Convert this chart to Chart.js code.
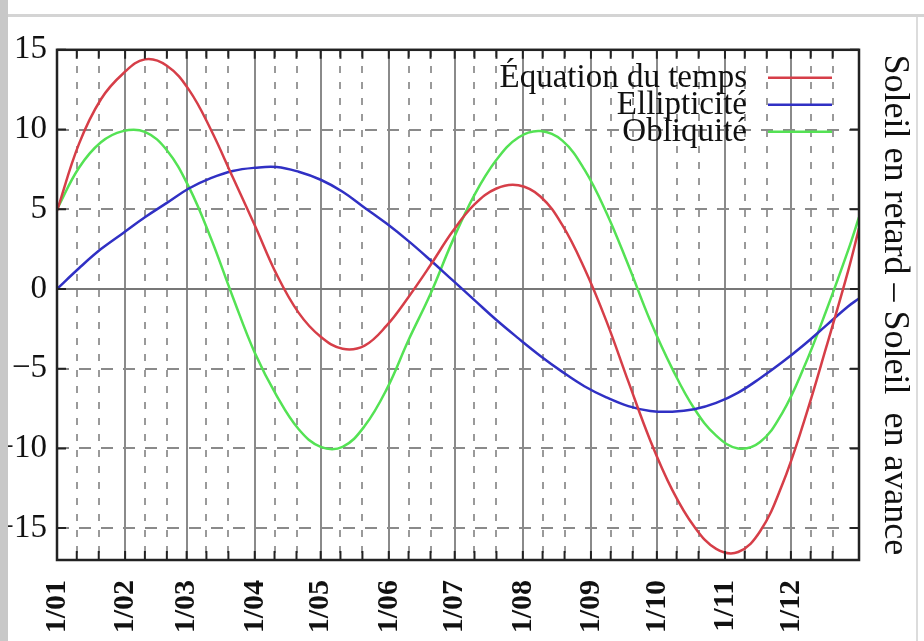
<!DOCTYPE html>
<html>
<head>
<meta charset="utf-8">
<script src="https://cdn.jsdelivr.net/npm/chart.js@4"></script>
<style>
  body { margin: 0; background: #fff; width: 924px; height: 641px; overflow: hidden; position: relative; }
  #stripe { position: absolute; left: 0; top: 0; width: 8px; height: 641px; background: #c8c8c8; }
  #topline { position: absolute; left: 8px; top: 14px; width: 916px; height: 3px; background: #d4d4d4; }
  #rightline { position: absolute; left: 916px; top: 17px; width: 2px; height: 624px; background: #dcdcdc; }
  #wrap { position: absolute; left: 8px; top: 20px; }
</style>
</head>
<body>
<div id="stripe"></div>
<div id="topline"></div>
<div id="rightline"></div>
<div id="wrap"><canvas id="lineChart" width="908" height="621"></canvas></div>
<script>
// day of year (0 = 1 January)
const days = [0, 10, 20, 30, 40, 50, 60, 70, 80, 90, 100, 110, 120, 130, 140, 150, 160, 170, 180,
    190, 200, 210, 220, 230, 240, 250, 260, 270, 280, 290, 300, 310, 320, 330, 340, 350, 360, 365];

const equation = [4.9, 9.1, 11.9, 13.5, 14.4, 14.0, 12.5, 10.0, 7.0, 4.0, 0.9, -1.5, -3.0, -3.75, -3.55, -2.3, -0.5, 1.5, 3.6,
    5.3, 6.3, 6.5, 5.8, 4.0, 1.3, -2.0, -5.8, -9.5, -12.6, -14.9, -16.3, -16.5, -15.2, -12.3, -8.3, -3.7, 1.1, 3.8];

const ellipticite = [0, 1.3, 2.5, 3.5, 4.5, 5.4, 6.3, 6.95, 7.4, 7.6, 7.65, 7.35, 6.85, 6.1, 5.1, 4.1, 3.0, 1.8, 0.55,
    -0.7, -1.95, -3.1, -4.2, -5.2, -6.1, -6.8, -7.35, -7.65, -7.7, -7.55, -7.15, -6.5, -5.6, -4.6, -3.5, -2.3, -1.1, -0.6];

const obliquite = [5.0, 7.6, 9.2, 9.9, 9.85, 8.7, 6.4, 3.2, -0.5, -4.0, -6.7, -8.8, -9.9, -9.9, -8.6, -6.3, -3.2, -0.3, 3.0,
    5.9, 8.1, 9.5, 9.9, 9.3, 7.5, 4.8, 1.5, -2.0, -5.0, -7.5, -9.2, -10.0, -9.6, -7.8, -4.9, -1.4, 2.4, 4.5];

const monthStarts = [0, 31, 59, 90, 120, 151, 181, 212, 243, 273, 304, 334];
const monthLabels = ['1/01', '1/02', '1/03', '1/04', '1/05', '1/06', '1/07', '1/08', '1/09', '1/10', '1/11', '1/12'];
const minorTicks = [9, 19, 40, 50, 68, 78, 99, 109, 129, 139, 160, 170, 190, 200, 221, 231, 252, 262, 282, 292, 313, 323, 343, 353];
const yTicks = [-15, -10, -5, 0, 5, 10, 15];

const serif = '"Liberation Serif", "Times New Roman", serif';

function toPoints(values) {
    return days.map((d, i) => ({ x: d, y: values[i] }));
}

// frame + inward tick marks, gnuplot style
const framePlugin = {
    id: 'frame',
    afterDatasetsDraw(chart) {
        const { ctx, chartArea: a, scales } = chart;
        ctx.save();
        ctx.strokeStyle = '#222';
        ctx.lineWidth = 2;
        const xt = monthStarts.concat(minorTicks);
        xt.forEach(v => {
            const px = scales.x.getPixelForValue(v);
            ctx.beginPath();
            ctx.moveTo(px, a.top); ctx.lineTo(px, a.top + 9);
            ctx.moveTo(px, a.bottom); ctx.lineTo(px, a.bottom - 9);
            ctx.stroke();
        });
        yTicks.forEach(v => {
            const py = scales.y.getPixelForValue(v);
            ctx.beginPath();
            ctx.moveTo(a.left, py); ctx.lineTo(a.left + 9, py);
            ctx.moveTo(a.right, py); ctx.lineTo(a.right - 9, py);
            ctx.stroke();
        });
        ctx.lineWidth = 2.5;
        ctx.strokeRect(a.left, a.top, a.right - a.left, a.bottom - a.top);
        ctx.restore();
    }
};

// key inside the plot: text right-aligned, sample line after it
const keyPlugin = {
    id: 'key',
    afterDatasetsDraw(chart) {
        const { ctx, chartArea: a } = chart;
        ctx.save();
        ctx.font = '33px ' + serif;
        ctx.textAlign = 'right';
        ctx.textBaseline = 'middle';
        chart.data.datasets.forEach((ds, i) => {
            const y = a.top + 28 + i * 27;
            ctx.fillStyle = '#111';
            ctx.fillText(ds.label, a.right - 112, y + 1);
            ctx.strokeStyle = ds.borderColor;
            ctx.lineWidth = 2.5;
            ctx.beginPath();
            ctx.moveTo(a.right - 91, y);
            ctx.lineTo(a.right - 27, y);
            ctx.stroke();
        });
        ctx.restore();
    }
};

const ctx = document.getElementById('lineChart').getContext('2d');

let chart = new Chart(ctx, {
    type: 'line',
    data: {
        datasets: [{
            label: 'Équation du temps',
            data: toPoints(equation),
            borderColor: 'rgb(214, 62, 72)',
            borderWidth: 2.5
        }, {
            label: 'Ellipticité',
            data: toPoints(ellipticite),
            borderColor: 'rgb(48, 48, 196)',
            borderWidth: 2.5
        }, {
            label: 'Obliquité',
            data: toPoints(obliquite),
            borderColor: 'rgb(84, 226, 84)',
            borderWidth: 2.5
        }]
    },
    options: {
        responsive: false,
        animation: false,
        layout: { padding: { top: 25 } },
        elements: {
            point: { radius: 0 },
            line: { tension: 0.4, fill: false }
        },
        plugins: {
            legend: { display: false },
            tooltip: { enabled: false }
        },
        scales: {
            x: {
                type: 'linear',
                min: 0,
                max: 365,
                afterBuildTicks: axis => { axis.ticks = monthStarts.map(v => ({ value: v })); },
                afterFit: axis => { axis.height = 81; },
                grid: { color: '#8a8a8a', lineWidth: 2, drawTicks: false },
                border: { display: false },
                ticks: {
                    autoSkip: false,
                    minRotation: 90,
                    maxRotation: 90,
                    padding: 20,
                    color: '#111',
                    font: { family: serif, size: 30, weight: 'bold' },
                    callback: (value, index) => monthLabels[index]
                }
            },
            x2: {
                type: 'linear',
                position: 'top',
                min: 0,
                max: 365,
                afterBuildTicks: axis => { axis.ticks = minorTicks.map(v => ({ value: v })); },
                afterFit: axis => { axis.height = 0; },
                grid: { color: '#9a9a9a', lineWidth: 2, drawTicks: false },
                border: { display: false, dash: [7, 9] },
                ticks: { display: false }
            },
            y: {
                min: -17,
                max: 15,
                afterBuildTicks: axis => { axis.ticks = yTicks.map(v => ({ value: v })); },
                afterFit: axis => { axis.width = 49; },
                grid: {
                    color: ctx => ctx.tick && ctx.tick.value === 0 ? '#777' : '#8a8a8a',
                    lineWidth: 2,
                    drawTicks: false
                },
                border: {
                    display: false,
                    dash: ctx => ctx.tick && ctx.tick.value === 0 ? [] : [12, 10]
                },
                ticks: {
                    padding: 10,
                    color: '#111',
                    font: { family: serif, size: 33 },
                    callback: v => String(v).replace('-', '\u2212')
                }
            },
            y2: {
                position: 'right',
                min: -17,
                max: 15,
                afterFit: axis => { axis.width = 57; },
                grid: { drawOnChartArea: false, drawTicks: false },
                border: { display: false },
                ticks: { display: false },
                title: {
                    display: true,
                    text: 'Soleil en retard \u2013 Soleil  en avance',
                    color: '#111',
                    font: { family: serif, size: 36 },
                    padding: { top: 0, bottom: 4 }
                }
            }
        }
    },
    plugins: [framePlugin, keyPlugin]
});
</script>
</body>
</html>
